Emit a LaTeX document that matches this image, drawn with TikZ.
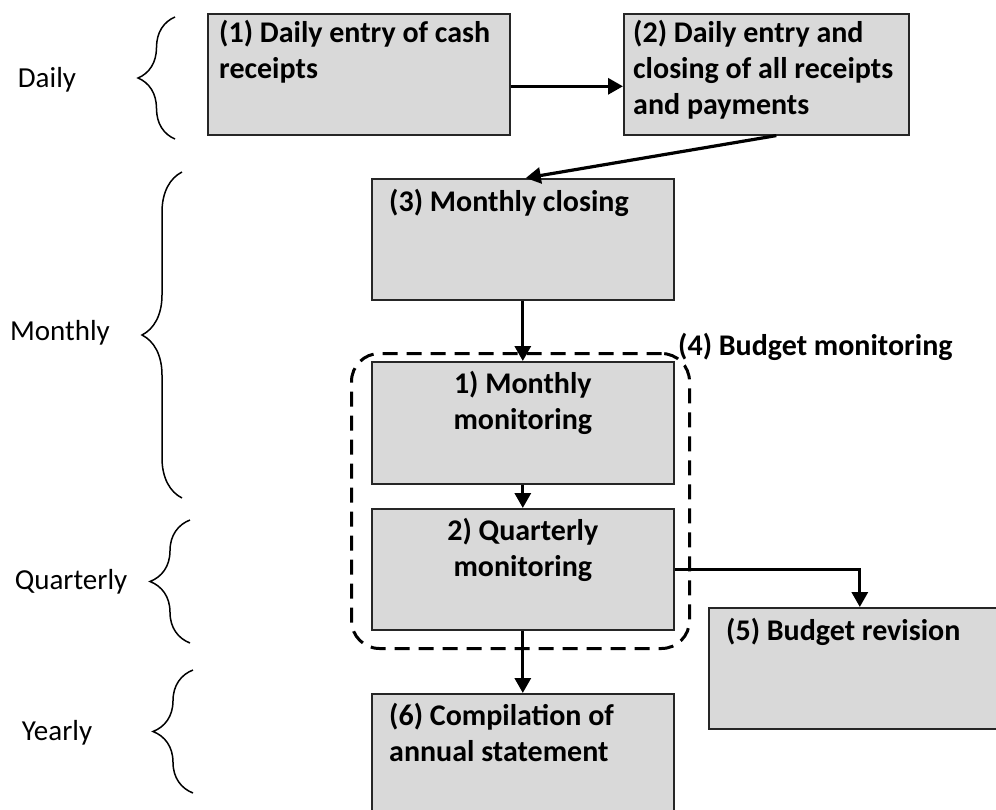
\documentclass[tikz,border=0pt]{standalone}
\usepackage{fontspec}
\setmainfont{Carlito}
\usetikzlibrary{arrows.meta,decorations.pathreplacing,calc}
\definecolor{boxgray}{HTML}{D9D9D9}
\begin{document}
\begin{tikzpicture}[x=1pt,y=-1pt,
  procbox/.style={draw=black!85, fill=boxgray, line width=1.6pt, minimum width=302pt,
    minimum height=121pt, anchor=north west, inner sep=0pt},
  boldtxt/.style={font=\fontsize{30}{36}\selectfont\bfseries, inner sep=0pt},
  lbl/.style={font=\fontsize{29}{35}\selectfont, inner sep=0pt},
  conn/.style={line width=3.2pt, -{Triangle[length=15pt,width=16pt]}},
  bracestyle/.style={line width=1.5pt, decorate},
  groupbox/.style={draw, dashed, dash pattern=on 15pt off 9pt, line width=3pt,
    rounded corners=28pt, minimum width=338pt, minimum height=295pt, anchor=north west, inner sep=0pt}
]
\useasboundingbox (0,0) rectangle (996,809);
\clip (0,0) rectangle (996,809);

% boxes
\node[procbox] (b1) at (207,13) {};
\node[procbox, minimum width=285pt] (b2) at (623,13) {};
\node[procbox] (b3) at (371,178) {};
\node[procbox, minimum height=122pt] (b41) at (371,361) {};
\node[procbox] (b42) at (371,508) {};
\node[procbox] (b5) at (708,607) {};
\node[procbox] (b6) at (371,693) {};

% group
\node[groupbox] (grp) at (350,352) {};
\node[boldtxt, anchor=west] (g4) at (678,347) {(4) Budget monitoring};

% texts
\node[boldtxt, anchor=north west, align=left] (t1) at ($(b1.north west)+(12,7)$) {(1) Daily entry of cash\\receipts};
\node[boldtxt, anchor=north west, align=left] (t2) at ($(b2.north west)+(10,7)$) {(2) Daily entry and\\closing of all receipts\\and payments};
\node[boldtxt, anchor=north west, align=left] (t3) at ($(b3.north west)+(18,11)$) {(3) Monthly closing};
\node[boldtxt, anchor=north, align=center] (t41) at ($(b41.north)+(0,10)$) {1) Monthly\\monitoring};
\node[boldtxt, anchor=north, align=center] (t42) at ($(b42.north)+(0,10)$) {2) Quarterly\\monitoring};
\node[boldtxt, anchor=north west, align=left] (t5) at ($(b5.north west)+(18,11)$) {(5) Budget revision};
\node[boldtxt, anchor=north west, align=left] (t6) at ($(b6.north west)+(18,10)$) {(6) Compilation of\\annual statement};

% connectors
\coordinate (a1) at ($(b1.east)+(0,12)$);
\draw[conn] (a1) -- (a1 -| b2.west);
\draw[conn] ($(b2.south)+(10,0)$) -- ($(b3.north)+(3,0)$);
\draw[conn] (b3.south) -- (b41.north);
\draw[conn] (b41.south) -- (b42.north);
\draw[conn] (b42.east) -| (b5.north);
\draw[conn] (b42.south) -- (b6.north);

% braces and period labels
\draw[bracestyle, decoration={brace, amplitude=37pt}] (175,139) -- (175,17);
\draw[bracestyle, decoration={brace, amplitude=40pt}] (182,498) -- (182,172);
\draw[bracestyle, decoration={brace, amplitude=40pt}] (190,643) -- (190,520);
\draw[bracestyle, decoration={brace, amplitude=40pt}] (193,793) -- (193,670);

\node[lbl] (ld) at (47,80) {Daily};
\node[lbl] (lm) at (60,333) {Monthly};
\node[lbl] (lq) at (71,582) {Quarterly};
\node[lbl] (ly) at (57,733) {Yearly};
\end{tikzpicture}
\end{document}
